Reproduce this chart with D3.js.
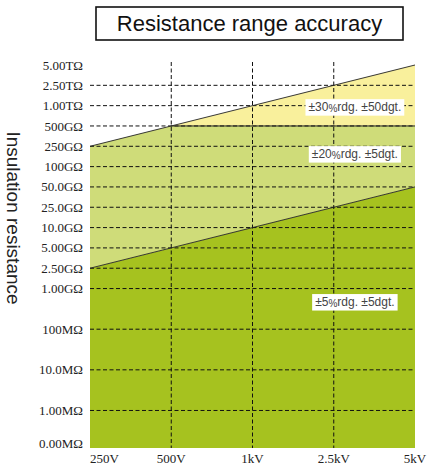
<html><head>
<meta charset="UTF-8">
<title>Resistance range accuracy</title>
<style>
  body { margin: 0; padding: 0; background: #fff; }
  svg { display: block; }
  .tick { font-family: "Liberation Serif", "DejaVu Serif", serif; font-size: 13px; fill: #222; }
  .zone { font-family: "Liberation Sans", Arial, sans-serif; font-size: 12px; fill: #444; }
</style>
</head>
<body>
<div id="chart"></div>
<script src="https://d3js.org/d3.v7.min.js"></script>
<script>
  // test voltages (x axis, evenly spaced categories)
  const volts = ["250V", "500V", "1kV", "2.5kV", "5kV"];

  // resistance tick labels, top to bottom
  const ohmTicks = ["5.00TΩ", "2.50TΩ", "1.00TΩ", "500GΩ", "250GΩ", "100GΩ", "50.0GΩ", "25.0GΩ",
    "10.0GΩ", "5.00GΩ", "2.50GΩ", "1.00GΩ", "100MΩ", "10.0MΩ", "1.00MΩ", "0.00MΩ"];

  // upper edge of the measurable range at each voltage
  const upperLimit = ["250GΩ", "500GΩ", "1.00TΩ", "2.50TΩ", "5.00TΩ"];
  // upper edge of the ±5% zone at each voltage
  const lowerLimit = ["2.50GΩ", "5.00GΩ", "10.0GΩ", "25.0GΩ", "50.0GΩ"];
  // above this value accuracy is ±30% (from 500V up)
  const midLimit = "500GΩ";

  const zoneLabels = ["±30%rdg. ±50dgt.", "±20%rdg. ±5dgt.", "±5%rdg. ±5dgt."];

  const width = 432, height = 468;
  const plotLeft = 90, plotRight = 415, plotTop = 62, plotBottom = 448;
  const colors = { yellow: "#f9f09c", light: "#cfdc79", dark: "#a6c21f" };

  const svg = d3.select("#chart").append("svg")
    .attr("width", width)
    .attr("height", height);

  const x = d3.scalePoint().domain(volts).range([plotLeft, plotRight]);

  // the resistance axis is drawn unevenly: one row per tick down to 1GΩ,
  // then two rows per decade below
  const rowOf = {};
  let r = 0;
  ohmTicks.forEach((t, i) => {
    if (i > 0) r += (i > 11 ? 2 : 1);
    if (t === "0.00MΩ") r -= 0.4;
    rowOf[t] = r;
  });
  const yRow = d3.scaleLinear().domain([0, 18.6]).range([65, 443]);
  const y = t => yRow(rowOf[t]);

  const rows = volts.map((v, i) => ({
    v: v,
    up: upperLimit[i],
    low: lowerLimit[i],
    green: rowOf[upperLimit[i]] > rowOf[midLimit] ? upperLimit[i] : midLimit
  }));

  // zones
  svg.append("path")
    .datum(rows)
    .attr("fill", colors.dark)
    .attr("d", d3.area().x(d => x(d.v)).y0(plotBottom).y1(d => y(d.low)));

  svg.append("path")
    .datum(rows)
    .attr("fill", colors.light)
    .attr("d", d3.area().x(d => x(d.v)).y0(d => y(d.low)).y1(d => y(d.green)));

  svg.append("path")
    .datum(rows.slice(1))
    .attr("fill", colors.yellow)
    .attr("d", d3.area().x(d => x(d.v)).y0(y(midLimit)).y1(d => y(d.up)));

  // dashed grid
  const grid = svg.append("g")
    .attr("stroke", "#111")
    .attr("stroke-width", 1)
    .attr("stroke-dasharray", "4,2.5");

  grid.selectAll("line.h")
    .data(ohmTicks.slice(1, -1))
    .join("line")
    .attr("class", "h")
    .attr("x1", plotLeft).attr("x2", plotRight)
    .attr("y1", d => y(d)).attr("y2", d => y(d));

  grid.selectAll("line.v")
    .data(volts.slice(1, -1))
    .join("line")
    .attr("class", "v")
    .attr("x1", d => x(d)).attr("x2", d => x(d))
    .attr("y1", plotTop).attr("y2", plotBottom);

  // zone boundaries
  const line = d3.line().x(d => x(d[0])).y(d => y(d[1]));
  svg.append("path")
    .attr("fill", "none").attr("stroke", "#222").attr("stroke-width", 0.9)
    .attr("d", line(volts.map((v, i) => [v, upperLimit[i]])));
  svg.append("path")
    .attr("fill", "none").attr("stroke", "#222").attr("stroke-width", 0.9)
    .attr("d", line(volts.map((v, i) => [v, lowerLimit[i]])));
  svg.append("line")
    .attr("stroke", "#222").attr("stroke-width", 1)
    .attr("x1", x("500V")).attr("x2", plotRight)
    .attr("y1", y(midLimit)).attr("y2", y(midLimit));

  // zone labels (white boxes)
  const labelRows = [2.05, 4.36, 11.64];
  zoneLabels.forEach((txt, i) => {
    const g = svg.append("g");
    const cx = x("2.5kV") + x.step() * 0.26;
    const t = g.append("text")
      .attr("class", "zone")
      .attr("x", cx)
      .attr("y", yRow(labelRows[i]) + 4)
      .attr("text-anchor", "middle");
    const parts = txt.split("%");
    t.append("tspan").text(parts[0]);
    t.append("tspan").attr("font-size", "10px").attr("dy", 1.5).text("%");
    t.append("tspan").attr("dy", -1.5).text(parts[1]);
    const b = t.node().getBBox();
    g.insert("rect", "text")
      .attr("x", b.x - 3).attr("y", b.y - 0.5)
      .attr("width", b.width + 6).attr("height", b.height + 2)
      .attr("fill", "#fff");
  });

  // y tick labels
  svg.selectAll("text.ylab")
    .data(ohmTicks)
    .join("text")
    .attr("class", "tick ylab")
    .attr("x", 83)
    .attr("y", d => y(d))
    .attr("dy", "0.35em")
    .attr("text-anchor", "end")
    .text(d => d);

  // x tick labels
  svg.selectAll("text.xlab")
    .data(volts)
    .join("text")
    .attr("class", "tick xlab")
    .attr("x", d => x(d))
    .attr("y", 463)
    .attr("text-anchor", (d, i) => i === 0 ? "start" : "middle")
    .text(d => d);

  // axis title
  svg.append("text")
    .attr("transform", "translate(13," + 218 + ") rotate(90)")
    .attr("text-anchor", "middle")
    .attr("dominant-baseline", "central")
    .attr("font-family", "'Liberation Sans', Arial, sans-serif")
    .attr("font-size", "19px")
    .attr("fill", "#222")
    .text("Insulation resistance");

  // title box
  svg.append("rect")
    .attr("x", 96).attr("y", 7)
    .attr("width", 307).attr("height", 33)
    .attr("fill", "#fff").attr("stroke", "#111").attr("stroke-width", 1.6);
  svg.append("text")
    .attr("x", 249.5).attr("y", 31)
    .attr("text-anchor", "middle")
    .attr("font-family", "'Liberation Sans', Arial, sans-serif")
    .attr("font-size", "22px")
    .attr("fill", "#111")
    .text("Resistance range accuracy");
</script>
</body></html>
